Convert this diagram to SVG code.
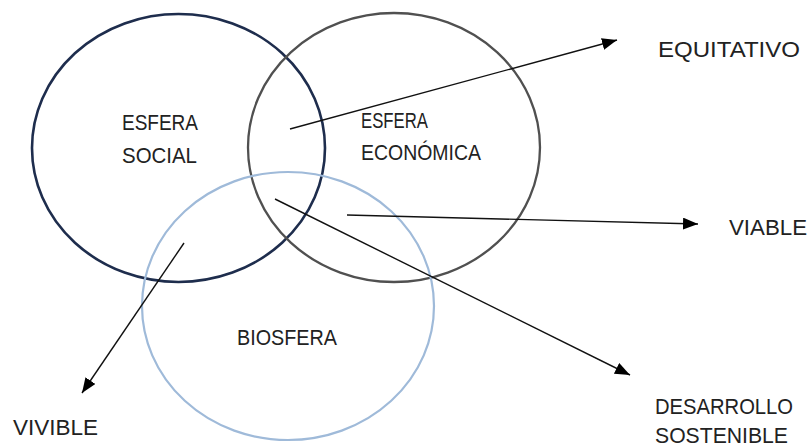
<svg xmlns="http://www.w3.org/2000/svg" width="811" height="448" viewBox="0 0 811 448">
<style>
.t{font-family:"Liberation Sans","Open Sans",sans-serif;font-size:21.5px;fill:#222}
.e{fill:none}
.c{stroke:#111;stroke-width:1.4;fill:none;marker-end:url(#ah)}
</style>
<defs>
<marker id="ah" markerUnits="userSpaceOnUse" markerWidth="16" markerHeight="12" refX="15" refY="6" orient="auto">
<path d="M0,0 L15,6 L0,12 z" fill="#000"/>
</marker>
</defs>
<rect width="811" height="448" fill="#fff"/>
<g id="social">
<ellipse class="e" cx="178.5" cy="148" rx="146.5" ry="134" stroke="#1e2d4d" stroke-width="2.6"/>
<text class="t" x="122" y="130" textLength="76" lengthAdjust="spacingAndGlyphs">ESFERA</text>
<text class="t" x="122" y="163" textLength="75" lengthAdjust="spacingAndGlyphs">SOCIAL</text>
</g>
<g id="economica">
<ellipse class="e" cx="394" cy="147.5" rx="146" ry="134.5" stroke="#505050" stroke-width="2.3"/>
<text class="t" x="361" y="128" textLength="67" lengthAdjust="spacingAndGlyphs">ESFERA</text>
<text class="t" x="361" y="160" textLength="120" lengthAdjust="spacingAndGlyphs">ECONÓMICA</text>
</g>
<g id="biosfera">
<ellipse class="e" cx="288" cy="306" rx="146" ry="134" stroke="#9fbad9" stroke-width="2.2"/>
<text class="t" x="237" y="345" textLength="100" lengthAdjust="spacingAndGlyphs">BIOSFERA</text>
</g>
<g id="equitativo"><text class="t" x="658" y="57" textLength="142" lengthAdjust="spacingAndGlyphs">EQUITATIVO</text></g>
<g id="viable"><text class="t" x="729" y="235" textLength="78" lengthAdjust="spacingAndGlyphs">VIABLE</text></g>
<g id="desarrollo">
<text class="t" x="655" y="414" textLength="138" lengthAdjust="spacingAndGlyphs">DESARROLLO</text>
<text class="t" x="655" y="443" textLength="133" lengthAdjust="spacingAndGlyphs">SOSTENIBLE</text>
</g>
<g id="vivible"><text class="t" x="13" y="435" textLength="85" lengthAdjust="spacingAndGlyphs">VIVIBLE</text></g>
<g id="connectors">
<line class="c" x1="290" y1="129" x2="617" y2="40"/>
<line class="c" x1="347" y1="215" x2="698" y2="224"/>
<line class="c" x1="275" y1="199" x2="630" y2="375"/>
<line class="c" x1="184" y1="243" x2="82" y2="393"/>
</g>
</svg>
